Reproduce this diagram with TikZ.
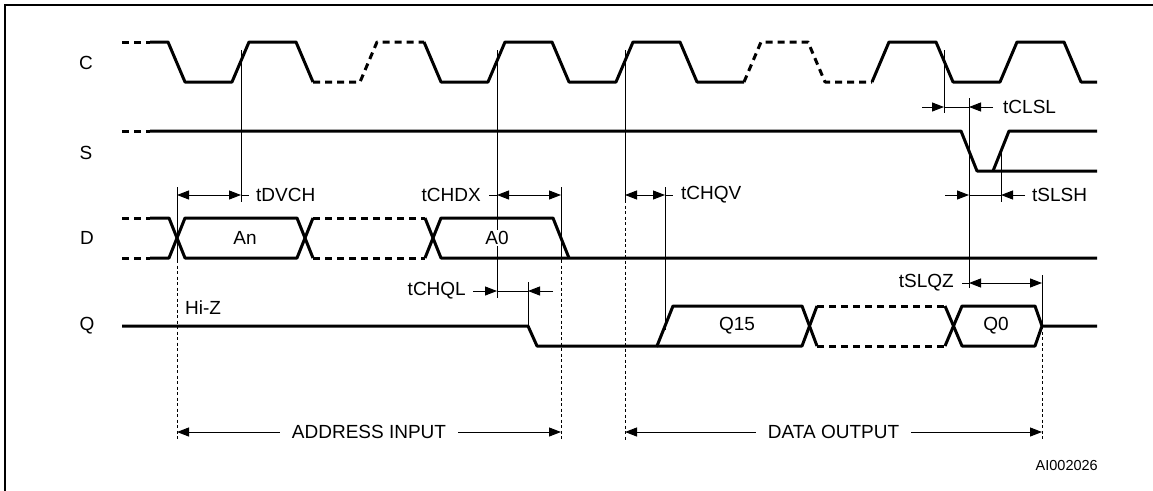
\documentclass[tikz,border=0pt]{standalone}
\usepackage{fontspec}
\setmainfont{Liberation Sans}
\usetikzlibrary{arrows.meta}

\tikzset{
  wave/.style={line width=3pt, line join=round},
  wavedash/.style={wave, dash pattern=on 7pt off 5pt},
  guide/.style={line width=1pt},
  guidedash/.style={guide, dash pattern=on 3pt off 2.5pt},
  dimto/.style={guide, -{Triangle[length=12pt,width=9pt]}},
  dimboth/.style={guide, {Triangle[length=12pt,width=9pt]}-{Triangle[length=12pt,width=9pt]}},
  lbl/.style={inner sep=0pt, font=\fontsize{19}{21}\selectfont},
}

\begin{document}
\begin{tikzpicture}[x=1pt, y=-1pt]
\useasboundingbox (0,0) rectangle (1153,490);
\clip (0,0) rectangle (1153,490);
\draw[line width=2pt] (5,5) rectangle (1170,505);

% signal names
\node[lbl] (rc) at (86,63) {C};
\node[lbl] (rs) at (86,153) {S};
\node[lbl] (rd) at (87,238) {D};
\node[lbl] (rq) at (87,326) {Q};

% C
\draw[wavedash] (122,42) -- (150,42);
\draw[wave] (150,42) -- (168,42) -- (185,82) -- (232,82) -- (249,42) -- (296,42) -- (313,82);
\draw[wavedash] (313,82) -- (360,82) -- (377,42) -- (424,42);
\draw[wave] (424,42) -- (441,82) -- (488,82) -- (505,42) -- (552,42) -- (569,82) -- (616,82) -- (633,42) -- (680,42) -- (697,82) -- (744,82);
\draw[wavedash] (744,82) -- (761,42) -- (808,42) -- (825,82) -- (872,82);
\draw[wave] (872,82) -- (889,42) -- (936,42) -- (953,82) -- (1000,82) -- (1017,42) -- (1064,42) -- (1081,82) -- (1097,82);

% S
\draw[wavedash] (122,131) -- (150,131);
\draw[wave] (150,131) -- (961,131) -- (977,171) -- (1097,171);
\draw[wave] (993,171) -- (1009,131) -- (1097,131);

% D
\draw[wavedash] (122,218) -- (150,218) (122,258) -- (150,258);
\draw[wave] (150,218) -- (169,218) -- (185,258) -- (297,258) -- (313,218);
\draw[wave] (150,258) -- (169,258) -- (185,218) -- (297,218) -- (313,258);
\draw[wavedash] (313,218) -- (425,218) (313,258) -- (425,258);
\draw[wave] (425,218) -- (441,258) -- (1097,258);
\draw[wave] (425,258) -- (441,218) -- (553,218) -- (569,258);

% Q
\draw[wave] (122,326) -- (528,326) -- (537,346) -- (657,346) -- (673,306) -- (802,306) -- (817,346);
\draw[wave] (657,346) -- (802,346) -- (817,306);
\draw[wavedash] (817,306) -- (945,306) (817,346) -- (945,346);
\draw[wave] (945,306) -- (962,346) -- (1035,346) -- (1042,326) -- (1097,326);
\draw[wave] (945,346) -- (962,306) -- (1035,306) -- (1042,326);

% timing marks
\coordinate (ck1) at (241,50);
\coordinate (ck2) at (497,50);
\coordinate (ck3) at (625,50);
\coordinate (ck4) at (944,50);
\coordinate (da) at (177,187);
\coordinate (db) at (561,187);
\coordinate (qv) at (665,187);
\coordinate (ql) at (528,282);
\coordinate (sl) at (969,98);
\coordinate (sh) at (1001,150);
\coordinate (qz) at (1042,275);
\coordinate (ya) at (0,107);
\coordinate (yb) at (0,195);
\coordinate (yc) at (0,283);
\coordinate (yd) at (0,291);
\coordinate (ye) at (0,432);
\coordinate (yf) at (0,440);
\coordinate (ys) at (0,260);

\draw[guide] (ck1) -- ++(0,152);
\draw[guide] (ck2) -- ++(0,248);
\draw[guide] (ck3) -- ++(0,150);
\draw[guidedash] (ck3) ++(0,150) -- (ck3 |- yf);
\draw[guide] (ck4) -- ++(0,63);
\draw[guide] (da) -- (da |- ys);
\draw[guidedash] (da |- ys) -- (da |- yf);
\draw[guide] (db) -- (db |- ys);
\draw[guidedash] (db |- ys) -- (db |- yf);
\draw[guide] (qv) -- ++(0,143);
\draw[guide] (ql) -- ++(0,45);
\draw[guide] (sl) -- ++(0,190);
\draw[guide] (sh) -- ++(0,52);
\draw[guide] (qz) -- ++(0,51);
\draw[guidedash] (qz) ++(0,51) -- (qz |- yf);

% tCLSL
\draw[dimto] (ck4 |- ya) ++(-22,0) -- (ck4 |- ya);
\draw[guide] (ck4 |- ya) -- (sl |- ya);
\draw[dimto] (sl |- ya) ++(24,0) -- (sl |- ya);
\node[lbl, anchor=west] (tclsl) at (1003,107) {tCLSL};

% tSLSH
\draw[dimto] (sl |- yb) ++(-24,0) -- (sl |- yb);
\draw[guide] (sl |- yb) -- (sh |- yb);
\draw[dimto] (sh |- yb) ++(24,0) -- (sh |- yb);
\node[lbl, anchor=west] (tslsh) at (1032,195) {tSLSH};

% tDVCH
\draw[dimboth] (da |- yb) -- (ck1 |- yb);
\draw[guide] (ck1 |- yb) -- ++(8,0);
\node[lbl, anchor=west] (tdvch) at (256,195) {tDVCH};

% tCHDX
\node[lbl, anchor=east] (tchdx) at (481,195) {tCHDX};
\draw[guide] (ck2 |- yb) -- ++(-8,0);
\draw[dimboth] (ck2 |- yb) -- (db |- yb);

% tCHQV
\draw[dimboth] (ck3 |- yb) -- (qv |- yb);
\draw[guide] (qv |- yb) -- ++(8,0);
\node[lbl, anchor=west] (tchqv) at (681,195) {tCHQV};

% tCHQL
\node[lbl, anchor=east] (tchql) at (466,291) {tCHQL};
\draw[dimto] (ck2 |- yd) ++(-24,0) -- (ck2 |- yd);
\draw[guide] (ck2 |- yd) -- (ql |- yd);
\draw[dimto] (ql |- yd) ++(25,0) -- (ql |- yd);

% tSLQZ
\node[lbl, anchor=east] (tslqz) at (954,283) {tSLQZ};
\draw[guide] (sl |- yc) -- ++(-7,0);
\draw[dimboth] (sl |- yc) -- (qz |- yc);

% spans
\draw[dimboth] (da |- ye) -- node[lbl, fill=white, inner xsep=12pt] (addr) {ADDRESS INPUT} (db |- ye);
\draw[dimboth] (ck3 |- ye) -- node[lbl, fill=white, inner xsep=12pt] (dout) {DATA OUTPUT} (qz |- ye);

% values
\node[lbl] (an) at (245,238) {An};
\node[lbl, fill=white, inner sep=1pt] (a0) at (497,238) {A0};
\node[lbl] (q15) at (737,326) {Q15};
\node[lbl] (q0) at (996,326) {Q0};
\node[lbl, anchor=west] (hiz) at (185,308) {Hi-Z};
\node[lbl, anchor=east, font=\fontsize{14.5}{16}\selectfont] (ref) at (1098,466) {AI002026};
\end{tikzpicture}
\end{document}
